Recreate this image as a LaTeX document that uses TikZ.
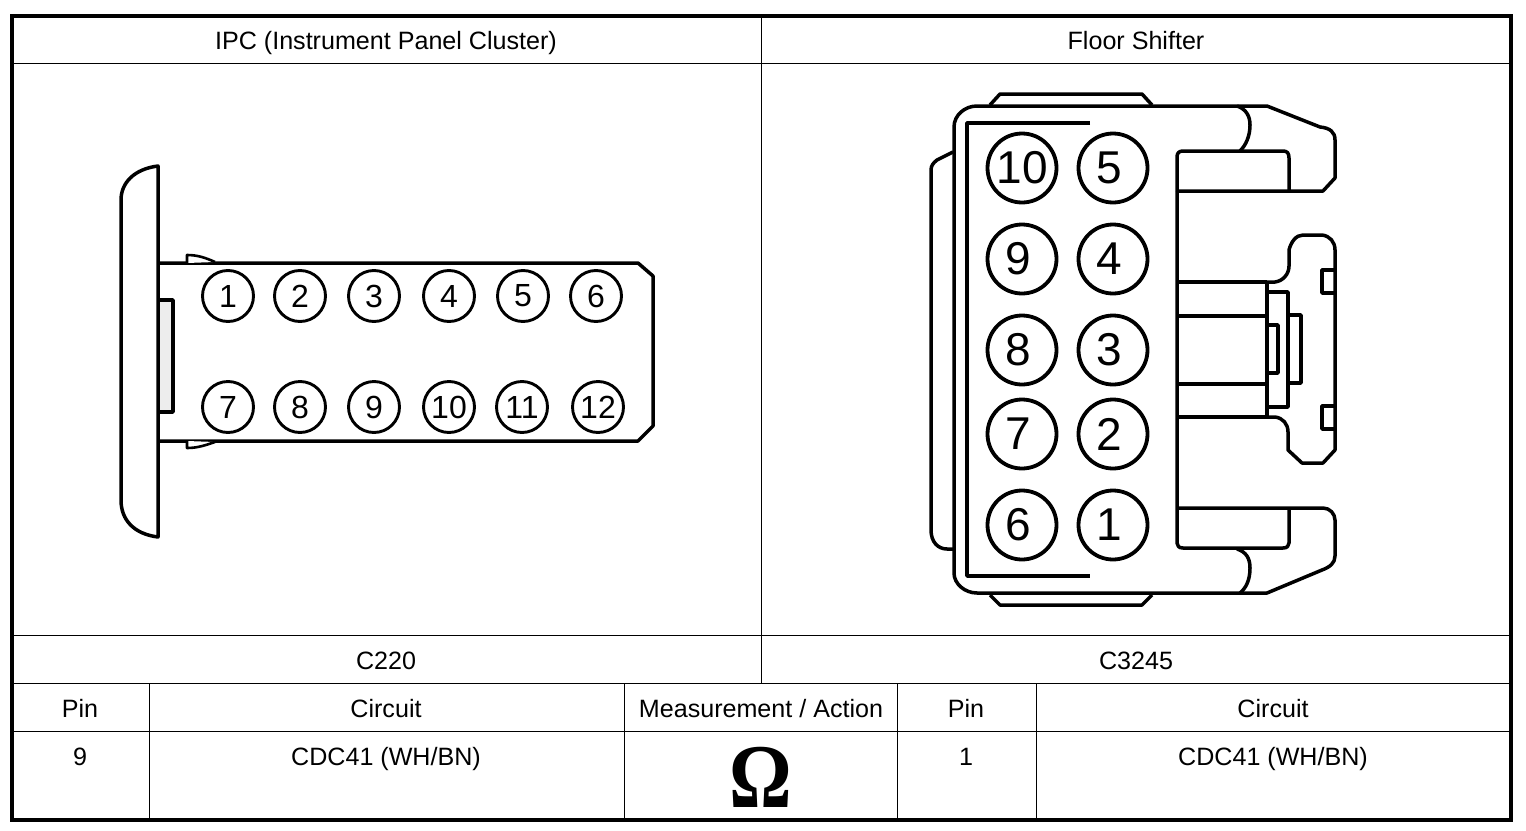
\documentclass[tikz,border=0pt]{standalone}
\usepackage{fontspec}
\setmainfont{Liberation Sans}
\newfontfamily\omegafont{Liberation Serif}
\newcommand{\fsz}[1]{\fontsize{#1}{#1}\selectfont}
\tikzset{
  thinrule/.style={line width=1pt,draw=black},
  outer/.style={line width=4pt,draw=black},
  shell/.style={line width=3.5pt,draw=black,line join=round},
  cell/.style={anchor=base,inner sep=0pt,font=\fsz{25.1}},
  pinsmall/.style={circle,draw=black,line width=2.9pt,minimum size=51pt,inner sep=0pt,font=\fsz{32}},
  pinbig/.style={circle,draw=black,line width=3.8pt,minimum size=69pt,inner sep=0pt,font=\fsz{46}},
}
\begin{document}
\begin{tikzpicture}[x=1pt,y=-1pt]
\useasboundingbox (0,0) rectangle (1526,830);
\fill[white] (0,0) rectangle (1526,830);
% table
\draw[thinrule] (12,63) -- (1511,63);
\draw[thinrule] (12,635) -- (1511,635);
\draw[thinrule] (12,683) -- (1511,683);
\draw[thinrule] (12,731) -- (1511,731);
\draw[thinrule] (761,15) -- (761,683);
\foreach \x in {149,624,897,1036} \draw[thinrule] (\x,683) -- (\x,820);
\draw[outer] (12,16) rectangle (1511,820);
% headings
\node[cell] (h1) at (386,49) {IPC (Instrument Panel Cluster)};
\node[cell] (h2) at (1136,49) {Floor Shifter};
\node[cell] (c1) at (386,669) {C220};
\node[cell] (c2) at (1136,669) {C3245};
\node[cell] (t1) at (80,717) {Pin};
\node[cell] (t2) at (386,717) {Circuit};
\node[cell] (t3) at (761,717) {Measurement / Action};
\node[cell] (t4) at (966,717) {Pin};
\node[cell] (t5) at (1273,717) {Circuit};
\node[cell] (v1) at (80,765) {9};
\node[cell] (v2) at (386,765) {CDC41 (WH/BN)};
\node[cell] (v3) at (966,765) {1};
\node[cell] (v4) at (1273,765) {CDC41 (WH/BN)};
\node[anchor=base,inner sep=0pt,font=\fsz{92}\omegafont\bfseries] (om) at (761,807) {\scalebox{0.85}[0.99]{Ω}};
% IPC connector
\draw[shell,fill=black!7] (158,300) -- (173,300) -- (173,412) -- (158,412);
\draw[shell] (158,166) .. controls (134,169) and (121,183) .. (121,200) -- (121,500) .. controls (121,520) and (134,534) .. (158,537) -- cycle;
\draw[shell] (158,263) -- (638,263) -- (653,276) -- (653,426) -- (638,441) -- (158,441);
\draw[line width=2.6pt,fill=white,line join=round] (187,263) -- (187,255) .. controls (198,255) and (206,258) .. (215,262);
\draw[line width=2.6pt,fill=white,line join=round] (187,441) -- (187,448) .. controls (198,448) and (206,445) .. (215,442);
\foreach \n/\x in {1/228,2/300,3/374,4/449,5/523,6/596}
  \node[pinsmall] (a\n) at (\x,296) {\n};
\foreach \n/\x in {7/228,8/300,9/374,10/449,11/522,12/598}
  \node[pinsmall] (a\n) at (\x,407) {\n};
% Floor shifter connector
\draw[shell] (954,127) .. controls (954,115) and (965,106) .. (977,106) -- (1267,106) -- (1320,127) .. controls (1330,128) and (1335,132) .. (1335,140) -- (1335,178) -- (1323,191) -- (1177,191);
\draw[shell] (954,127) -- (954,573) .. controls (954,584) and (965,593) .. (977,593) -- (1267,593) -- (1322,570) .. controls (1330,567) and (1335,563) .. (1335,556) -- (1335,520) .. controls (1335,514) and (1330,508) .. (1323,508) -- (1177,508);
\draw[shell] (1177,191) -- (1177,157) .. controls (1177,153) and (1179,151) .. (1183,151) -- (1283,151) .. controls (1287,151) and (1289,153) .. (1289,158) -- (1289,191);
\draw[shell] (1177,191) -- (1177,543) .. controls (1177,546) and (1179,548) .. (1183,548) -- (1283,548) .. controls (1287,548) and (1289,546) .. (1289,543) -- (1289,508);
\draw[shell] (1237,106) .. controls (1246,109) and (1250,116) .. (1250,125) .. controls (1250,136) and (1246,145) .. (1240,151);
\draw[shell] (1237,549) .. controls (1246,552) and (1250,558) .. (1250,568) .. controls (1250,580) and (1246,588) .. (1240,593);
\draw[shell] (990,105) -- (1000,94) -- (1142,94) -- (1152,105);
\draw[shell] (990,595) -- (1000,605) -- (1142,605) -- (1152,595);
\draw[shell] (1090,123) -- (967,123) -- (967,576) -- (1090,576);
\draw[shell] (953,152) -- (937,160) .. controls (933,163) and (931,166) .. (931,170) -- (931,530) .. controls (931,542) and (938,549) .. (947,549) -- (954,549);
% middle latch
\draw[shell] (1177,282) -- (1267,282);
\draw[shell] (1177,316) -- (1267,316);
\draw[shell] (1177,384) -- (1267,384);
\draw[shell] (1177,417) -- (1267,417);
\draw[shell] (1267,282) -- (1267,417);
\draw[shell] (1267,282) -- (1275,282) .. controls (1283,281) and (1289,274) .. (1289,266) -- (1289,250) .. controls (1291,242) and (1296,235) .. (1303,235) -- (1322,235) .. controls (1330,236) and (1335,242) .. (1335,250) -- (1335,450) -- (1323,463) -- (1302,463) -- (1288,450) -- (1288,432) .. controls (1288,424) and (1283,418) .. (1275,417) -- (1267,417);
\draw[shell] (1267,292) -- (1288,292) -- (1288,407) -- (1267,407);
\draw[shell] (1290,315) -- (1301,315) -- (1301,383) -- (1290,383);
\draw[shell] (1267,325) -- (1278,325) -- (1278,373) -- (1267,373);
\draw[shell] (1335,270) -- (1322,270) -- (1322,293) -- (1335,293);
\draw[shell] (1335,406) -- (1322,406) -- (1322,429) -- (1335,429);
\node[pinbig] (b10) at (1022,168) {10};
\foreach \n/\y in {9/259,8/350,7/434,6/525}
  \node[pinbig] (b\n) at (1022,\y) {\n\kern8pt};
\foreach \n/\y in {5/168,4/259,3/350,2/434,1/525}
  \node[pinbig] (b\n) at (1113,\y) {\n\kern8pt};
\end{tikzpicture}
\end{document}
